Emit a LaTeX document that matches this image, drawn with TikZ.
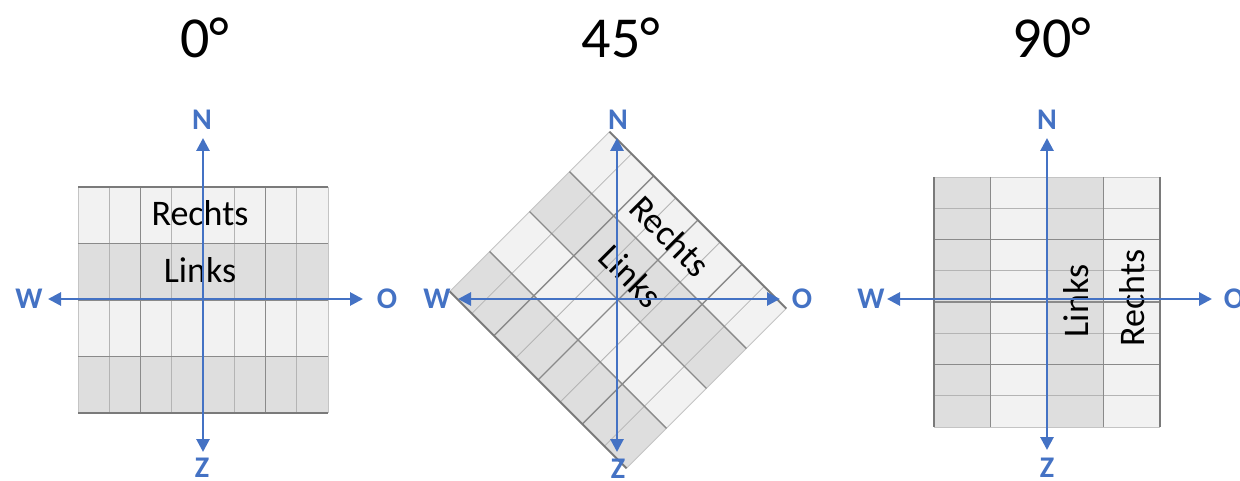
\documentclass[tikz,border=0pt]{standalone}
\usepackage{fontspec}
\setmainfont{Carlito}
\usetikzlibrary{arrows.meta}
\definecolor{axisblue}{HTML}{4472C4}
\definecolor{celllight}{HTML}{F2F2F2}
\definecolor{celldark}{HTML}{DEDEDE}
\definecolor{edgegray}{HTML}{7A7A7A}
\definecolor{midgray}{HTML}{8A8A8A}
\definecolor{thingray}{HTML}{B4B4B4}
\definecolor{sidegray}{HTML}{C4C4C4}
\tikzset{
  axisarrow/.style={draw=axisblue, line width=2.8pt,
    {Triangle[length=13pt,width=13pt]}-{Triangle[length=13pt,width=13pt]}},
  dirlabel/.style={text=axisblue, font=\fontsize{30}{32}\selectfont\bfseries, inner sep=0pt},
  titlelabel/.style={font=\fontsize{58}{60}\selectfont, inner sep=0pt},
  celltext/.style={font=\fontsize{36}{38}\selectfont, inner sep=0pt},
  thinline/.style={draw=thingray, line width=0.8pt},
  groupline/.style={draw=midgray, line width=1.3pt},
  rowline/.style={draw=midgray, line width=1.4pt},
  edgeline/.style={draw=edgegray, line width=2pt},
  sideline/.style={draw=sidegray, line width=0.8pt},
}
\newcommand\tilegrid{%
  \fill[celllight] (-125,-113) rectangle (125,-56.5);
  \fill[celldark] (-125,-56.5) rectangle (125,0);
  \fill[celllight] (-125,0) rectangle (125,56.5);
  \fill[celldark] (-125,56.5) rectangle (125,113);
  \foreach \k in {1,3,5,7} \draw[thinline] ({-125+31.25*\k},-113) -- ++(0,226);
  \foreach \k in {2,4,6} \draw[groupline] ({-125+31.25*\k},-113) -- ++(0,226);
  \draw[sideline] (-125,-113) -- (-125,113) (125,-113) -- (125,113);
  \foreach \yy in {-56.5,0,56.5} \draw[rowline] (-125,\yy) -- (125,\yy);
  \draw[edgeline] (-125,-113) -- (125,-113) (-125,113) -- (125,113);
}
\begin{document}
\begin{tikzpicture}[x=1pt,y=-1pt]
\useasboundingbox (0,0) rectangle (1240,481);

% titles
\node[titlelabel] (t0) at (205,38) {0°};
\node[titlelabel] (t45) at (621,38) {45°};
\node[titlelabel] (t90) at (1052,38) {90°};

% grids
\begin{scope}[shift={(203,300)}]\tilegrid\end{scope}
\begin{scope}[shift={(618,300)},rotate=-45]\tilegrid\end{scope}
\begin{scope}[shift={(1047,302)},rotate=-90]\tilegrid\end{scope}

% cell texts
\node[celltext] (r1) at (200,213) {Rechts};
\node[celltext] (l1) at (200,270) {Links};
\node[celltext,rotate=-45] (r2) at (670,236) {Rechts};
\node[celltext,rotate=-45] (l2) at (631,276) {Links};
\node[celltext,rotate=90] (l3) at (1076,301) {Links};
\node[celltext,rotate=90] (r3) at (1132,298) {Rechts};

% panel 1 axes
\coordinate (n1) at (203,138);
\coordinate (z1) at (203,452);
\coordinate (w1) at (48,299);
\coordinate (o1) at (363,299);
\draw[axisarrow] (z1) -- (n1);
\draw[axisarrow] (w1) -- (o1);
\node[dirlabel] (N1) at (202,120) {N};
\node[dirlabel] (Z1) at (202,468) {Z};
\node[dirlabel] (W1) at (29,299) {W};
\node[dirlabel] (O1) at (387,299) {O};

% panel 2 axes
\coordinate (n2) at (617,138);
\coordinate (z2) at (617,452);
\coordinate (w2) at (458,299);
\coordinate (o2) at (780,299);
\draw[axisarrow] (z2) -- (n2);
\draw[axisarrow] (w2) -- (o2);
\node[dirlabel] (N2) at (618,120) {N};
\node[dirlabel] (Z2) at (618,469) {Z};
\node[dirlabel] (W2) at (437,299) {W};
\node[dirlabel] (O2) at (802,299) {O};

% panel 3 axes
\coordinate (n3) at (1047,138);
\coordinate (z3) at (1047,450);
\coordinate (w3) at (887,299);
\coordinate (o3) at (1212,299);
\draw[axisarrow] (z3) -- (n3);
\draw[axisarrow] (w3) -- (o3);
\node[dirlabel] (N3) at (1047,120) {N};
\node[dirlabel] (Z3) at (1047,468) {Z};
\node[dirlabel] (W3) at (871,299) {W};
\node[dirlabel] (O3) at (1234,299) {O};
\end{tikzpicture}
\end{document}
